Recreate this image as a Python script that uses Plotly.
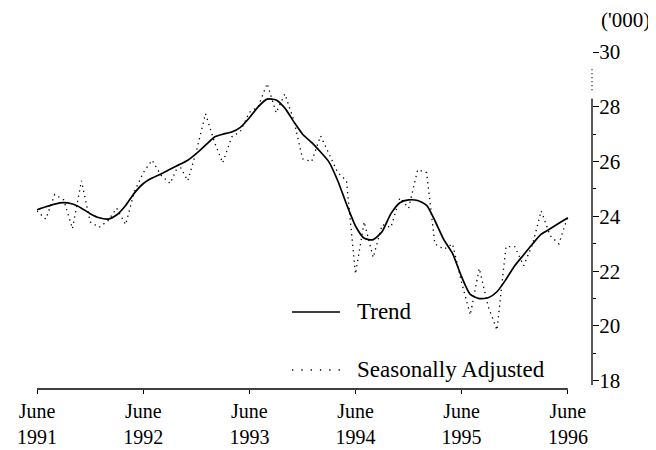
import pandas as pd
import plotly.graph_objects as go

# Monthly, June 1991 .. June 1996
months = pd.date_range("1991-06-01", "1996-06-01", freq="MS")

trend = [24.24, 24.35, 24.45, 24.50, 24.45, 24.30, 24.10, 23.95, 23.90, 24.05,
         24.40, 24.85, 25.20, 25.40, 25.55, 25.72, 25.88, 26.05, 26.30, 26.60,
         26.90, 27.00, 27.08, 27.25, 27.60, 28.00, 28.28, 28.25, 27.95, 27.45,
         27.00, 26.70, 26.35, 26.00, 25.30, 24.45, 23.65, 23.20, 23.15, 23.45,
         24.10, 24.50, 24.60, 24.58, 24.40, 23.85, 23.15, 22.65, 21.80, 21.15,
         21.00, 21.03, 21.25, 21.70, 22.20, 22.60, 23.00, 23.35, 23.55, 23.75,
         23.95]

seas_adj = [24.20, 23.90, 24.80, 24.60, 23.55, 25.30, 23.80, 23.60, 23.85, 24.30,
            23.70, 24.90, 25.60, 26.05, 25.50, 25.20, 25.90, 25.30, 26.40, 27.75,
            26.70, 25.95, 26.90, 27.10, 27.80, 28.00, 28.85, 27.78, 28.47, 27.50,
            26.10, 26.00, 26.94, 26.30, 25.60, 25.30, 21.90, 23.80, 22.50, 23.70,
            23.60, 24.68, 24.30, 25.70, 25.60, 23.00, 22.80, 23.00, 21.60, 20.40,
            22.10, 20.70, 19.85, 22.90, 22.90, 22.20, 23.00, 24.20, 23.30, 23.00,
            24.00]

tick_dates = ["1991-06-01", "1992-06-01", "1993-06-01", "1994-06-01", "1995-06-01", "1996-06-01"]
tick_text = ["June<br>1991", "June<br>1992", "June<br>1993", "June<br>1994", "June<br>1995", "June<br>1996"]
y_major = [18, 20, 22, 24, 26, 28, 30]
y_labels = ["18", "20", "22", "24", "26", "28", "30"]

SERIF = "Liberation Serif"

fig = go.Figure()
fig.add_trace(go.Scatter(x=months, y=seas_adj, mode="lines", name="Seasonally Adjusted",
                         line=dict(color="black", width=1.3, dash="1.3px,4px"),
                         showlegend=False))
fig.add_trace(go.Scatter(x=months, y=trend, mode="lines", name="Trend",
                         line=dict(color="black", width=1.7, shape="spline", smoothing=0.6),
                         showlegend=False))

fig.update_layout(
    width=648, height=442,
    margin=dict(l=29, r=64, t=44, b=61),
    paper_bgcolor="white", plot_bgcolor="white",
    font=dict(family=SERIF, color="black", size=21),
    xaxis=dict(
        type="date", range=["1991-06-01", "1996-08-23"],
        tickvals=tick_dates, ticktext=tick_text,
        ticks="outside", ticklen=4, tickwidth=1.2, tickcolor="black",
        showline=False, showgrid=False, zeroline=False, automargin=False,
        tickfont=dict(family=SERIF, size=20, color="black"),
    ),
    yaxis=dict(
        side="right", range=[17.7, 30],
        tickvals=y_major, ticktext=y_labels,
        ticks="outside", ticklen=6, tickwidth=1.2, tickcolor="black",
        minor=dict(tickvals=[19, 21, 23, 25, 27], ticks="outside", ticklen=3, tickcolor="black"),
        showline=False, showgrid=False, zeroline=False, automargin=False,
        ticklabelstandoff=-4,
        tickfont=dict(family=SERIF, size=21, color="black"),
    ),
)

# x axis line (June 1991 .. June 1996)
fig.add_shape(type="line", xref="x", yref="paper", x0=tick_dates[0], x1=tick_dates[-1],
              y0=0, y1=0, line=dict(color="black", width=1.3))
# y axis line with a break above 28
fig.add_shape(type="line", xref="paper", yref="y", x0=1, x1=1, y0=17.85, y1=28.3,
              line=dict(color="black", width=1.3))
fig.add_shape(type="line", xref="paper", yref="y", x0=1, x1=1, y0=28.6, y1=29.4,
              line=dict(color="black", width=1.2, dash="1px,3px"))

# legend drawn by hand
fig.add_shape(type="line", xref="paper", yref="paper", x0=0.4595, x1=0.5459, y0=0.2285, y1=0.2285,
              line=dict(color="black", width=1.5))
fig.add_shape(type="line", xref="paper", yref="paper", x0=0.4595, x1=0.5459, y0=0.0564, y1=0.0564,
              line=dict(color="black", width=1.3, dash="1.3px,8px"))
fig.add_annotation(xref="paper", yref="paper", x=0.573, y=0.2285, text="Trend", showarrow=False,
                   xanchor="left", yanchor="middle", font=dict(family=SERIF, size=23, color="black"))
fig.add_annotation(xref="paper", yref="paper", x=0.573, y=0.0564, text="Seasonally Adjusted",
                   showarrow=False, xanchor="left", yanchor="middle",
                   font=dict(family=SERIF, size=23, color="black"))
fig.add_annotation(xref="paper", yref="paper", x=1.108, y=1.095, text="('000)", showarrow=False,
                   xanchor="right", yanchor="middle", font=dict(family=SERIF, size=21, color="black"))

fig.write_html("out.html")
